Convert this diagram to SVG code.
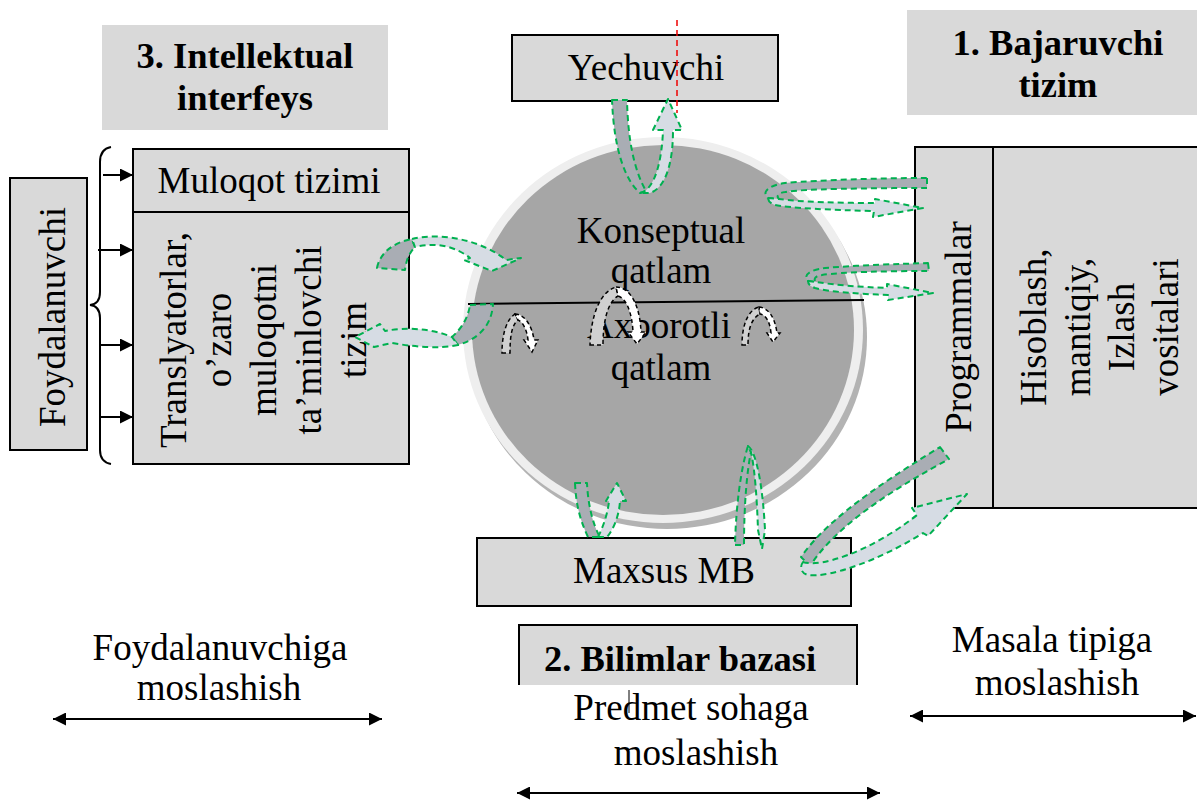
<svg xmlns="http://www.w3.org/2000/svg" width="1197" height="801" viewBox="0 0 1197 801">
  <defs>
    <style>
      .box { fill: #d9d9d9; stroke: #000; stroke-width: 2; }
      .pad { fill: #d9d9d9; }
      .t { font-family: 'Liberation Serif', 'Times New Roman', serif; font-size: 37px; fill: #000; text-anchor: middle; }
      .b { font-weight: bold; font-size: 36.5px; }
      .dk { fill: #a9adb4; stroke: #00b050; stroke-width: 2; stroke-dasharray: 6 4; stroke-linejoin: round; }
      .lt { fill: #d6dce4; stroke: #00b050; stroke-width: 2; stroke-dasharray: 6 4; stroke-linejoin: round; }
      .ig { fill: #d0d0d0; stroke: #000; stroke-width: 1.5; stroke-dasharray: 4 3; }
      .iw { fill: #fff; stroke: #000; stroke-width: 1.5; stroke-dasharray: 4 3; }
      .ln { fill: none; stroke: #000; stroke-width: 2; }
    </style>
    <marker id="head" viewBox="0 0 10 10" refX="10" refY="5" markerWidth="7" markerHeight="6.5" orient="auto-start-reverse" markerUnits="strokeWidth">
      <path d="M0,0 L10,5 L0,10 Z" fill="#000"/>
    </marker>
  </defs>

  <rect width="1197" height="801" fill="#fff"/>

  <!-- section headings -->
  <g id="heading-interface">
    <rect class="pad" x="102" y="25" width="286" height="105"/>
    <text class="t b" x="245" y="68">3. Intellektual</text>
    <text class="t b" x="245" y="110">interfeys</text>
  </g>
  <g id="heading-executor">
    <rect class="pad" x="907" y="10" width="290" height="105"/>
    <text class="t b" x="1058" y="55">1. Bajaruvchi</text>
    <text class="t b" x="1058" y="97">tizim</text>
  </g>
  <g id="heading-knowledge">
    <path d="M519,685 L519,625 L857,625 L857,685" fill="#d9d9d9" stroke="#000" stroke-width="2"/>
    <text class="t b" x="680" y="671">2. Bilimlar bazasi</text>
  </g>

  <!-- knowledge sphere -->
  <g id="sphere">
    <ellipse cx="667" cy="337" rx="200" ry="192" fill="#b3b3b3"/>
    <ellipse cx="663" cy="330" rx="200" ry="193" fill="#eeeeee"/>
    <ellipse cx="663" cy="330" rx="191" ry="185" fill="#a6a6a6"/>
    <line x1="468" y1="304" x2="864" y2="300" stroke="#000" stroke-width="2"/>
    <text class="t" x="661" y="243">Konseptual</text>
    <text class="t" x="661" y="283">qatlam</text>
    <text class="t" x="659" y="338">Axborotli</text>
    <text class="t" x="661" y="380">qatlam</text>
  </g>

  <g id="solver">
    <rect class="box" x="512" y="35" width="266" height="66"/>
    <text class="t" x="646" y="80">Yechuvchi</text>
    <line x1="677" y1="20" x2="677" y2="113" stroke="#e00" stroke-width="1.5" stroke-dasharray="6 4"/>
  </g>

  <g id="user">
    <rect class="box" x="10" y="178" width="77" height="272"/>
    <text class="t" transform="translate(65,317) rotate(-90)">Foydalanuvchi</text>
  </g>

  <g id="dialog">
    <rect class="box" x="133" y="149" width="276" height="63"/>
    <text class="t" x="269" y="193">Muloqot tizimi</text>
  </g>

  <g id="translators">
    <rect class="box" x="133" y="212" width="276" height="252"/>
    <text class="t" transform="translate(186,340) rotate(-90)">Translyatorlar,</text>
    <text class="t" transform="translate(231,340) rotate(-90)">o’zaro</text>
    <text class="t" transform="translate(276,340) rotate(-90)">muloqotni</text>
    <text class="t" transform="translate(321,340) rotate(-90)">ta’minlovchi</text>
    <text class="t" transform="translate(366,340) rotate(-90)">tizim</text>
  </g>

  <g id="programs">
    <rect class="box" x="915" y="147" width="78" height="361"/>
    <text class="t" transform="translate(971,327) rotate(-90)">Programmalar</text>
  </g>

  <g id="tools">
    <rect class="box" x="993" y="147" width="210" height="361"/>
    <text class="t" transform="translate(1046,327) rotate(-90)">Hisoblash,</text>
    <text class="t" transform="translate(1090,327) rotate(-90)">mantiqiy,</text>
    <text class="t" transform="translate(1134,327) rotate(-90)">Izlash</text>
    <text class="t" transform="translate(1178,327) rotate(-90)">vositalari</text>
  </g>

  <g id="special-db">
    <rect class="box" x="477" y="538" width="374" height="68"/>
    <text class="t" x="664" y="583">Maxsus MB</text>
  </g>

  <g id="captions">
    <text class="t" x="220" y="660">Foydalanuvchiga</text>
    <text class="t" x="219" y="700">moslashish</text>
    <text class="t" x="691" y="720">Predmet sohaga</text>
    <text class="t" x="696" y="765">moslashish</text>
    <line x1="629" y1="690" x2="629" y2="713" stroke="#000" stroke-width="1"/>
    <text class="t" x="1052" y="652">Masala tipiga</text>
    <text class="t" x="1057" y="695">moslashish</text>
  </g>

  <g id="connectors">
    <!-- brace from the user block -->
    <path class="ln" stroke-width="1.5" d="M111,147 Q100,149 100,162 L100,292 Q100,304 90,305 Q100,306 100,318 L100,450 Q100,462 111,464"/>
    <line class="ln" x1="103" y1="175" x2="133" y2="175" marker-end="url(#head)"/>
    <line class="ln" x1="98" y1="250" x2="133" y2="250" marker-end="url(#head)"/>
    <line class="ln" x1="100" y1="345" x2="133" y2="345" marker-end="url(#head)"/>
    <line class="ln" x1="101" y1="417" x2="133" y2="417" marker-end="url(#head)"/>

    <!-- adaptation axes -->
    <line class="ln" x1="53" y1="719" x2="382" y2="719" marker-start="url(#head)" marker-end="url(#head)"/>
    <line class="ln" x1="517" y1="793" x2="880" y2="793" marker-start="url(#head)" marker-end="url(#head)"/>
    <line class="ln" x1="910" y1="716" x2="1196" y2="716" marker-start="url(#head)" marker-end="url(#head)"/>

    <!-- solver loop -->
    <path class="dk" d="M612,100 L627,100 C628,140 634,170 646,191 L640,193 C625,180 614,150 612,100 Z"/>
    <path class="lt" d="M640,193 C655,190 662,160 663,130 L653,130 L668,99 L682,130 L673,130 C673,165 665,188 650,193 Z"/>

    <!-- interface exchange -->
    <path class="dk" d="M377,268 C380,252 395,242 412,239 L415,247 C409,253 406,261 405,270 Z"/>
    <path class="lt" d="M412,239 C440,232 482,240 506,260 L521,258 L492,271 L464,260 L470,258 C455,246 435,242 415,247 Z"/>
    <path class="dk" d="M470,305 L493,304 C492,322 482,338 458,345 L452,337 C462,328 468,318 470,305 Z"/>
    <path class="lt" d="M458,345 C440,349 415,347 392,343 L374,347 L355,337 L380,324 L385,331 C405,327 430,328 452,337 Z"/>

    <!-- program loops -->
    <path class="dk" d="M927,178 L927,188 C870,188 800,189 785,192 C778,193 776,196 779,199 L768,198 C762,193 766,186 785,183 C820,180 880,178 927,178 Z"/>
    <path class="lt" d="M768,198 L779,199 C800,202 840,203 875,203 L875,199 L923,208 L873,217 L874,211 C830,210 790,208 775,205 C770,203 768,201 768,198 Z"/>
    <path class="dk" d="M928,263 L929,271 C890,271 840,272 822,275 C815,276 813,279 816,282 L808,281 C803,276 808,270 825,268 C860,265 900,264 928,263 Z"/>
    <path class="lt" d="M808,281 L816,282 C835,285 860,287 887,288 L887,284 L933,293 L888,300 L888,295 C860,294 830,292 815,288 C810,286 808,284 808,281 Z"/>

    <!-- programs to special database -->
    <path class="dk" d="M940,447 L949,459 C905,483 840,520 810,566 L801,557 C830,515 895,475 940,447 Z"/>
    <path class="lt" d="M803,562 C820,568 870,552 917,515 L912,508 L967,494 L928,536 L923,533 C880,560 830,578 808,575 C800,573 800,566 803,562 Z"/>

    <!-- special database loops -->
    <path class="dk" d="M575,483 L587,483 C588,505 593,525 600,537 L588,537 C580,520 576,505 575,483 Z"/>
    <path class="lt" d="M598,537 C604,525 608,512 609,501 L606,501 L617,483 L626,501 L620,501 C619,517 613,530 607,537 Z"/>
    <path class="dk" d="M735,545 L744,545 C744,505 747,470 751,452 L748,446 C741,468 736,505 735,545 Z"/>
    <path class="lt" d="M748,446 C757,452 763,490 765,530 L762,549 L758,530 C757,500 755,470 751,452 Z"/>

    <!-- layer transitions inside the sphere -->
    <path class="ig" d="M502,353 L510,353 C510,335 512,325 518,320 L515,314 C506,320 502,335 502,353 Z"/>
    <path class="iw" d="M515,314 C524,314 532,325 534,340 L538,340 L532,352 L524,340 L528,340 C527,330 523,322 518,320 Z"/>
    <path class="ig" d="M590,345 L603,345 C603,320 608,302 618,296 L616,287 C600,292 591,315 590,345 Z"/>
    <path class="iw" d="M616,287 C630,287 640,305 641,332 L646,332 L637,344 L628,332 L633,332 C632,312 626,298 618,296 Z"/>
    <path class="ig" d="M742,345 L748,345 C748,328 752,318 760,314 L759,307 C748,310 742,325 742,345 Z"/>
    <path class="iw" d="M759,307 C769,308 775,318 777,333 L780,333 L773,342 L767,333 L771,333 C770,322 766,315 760,314 Z"/>
  </g>
</svg>
